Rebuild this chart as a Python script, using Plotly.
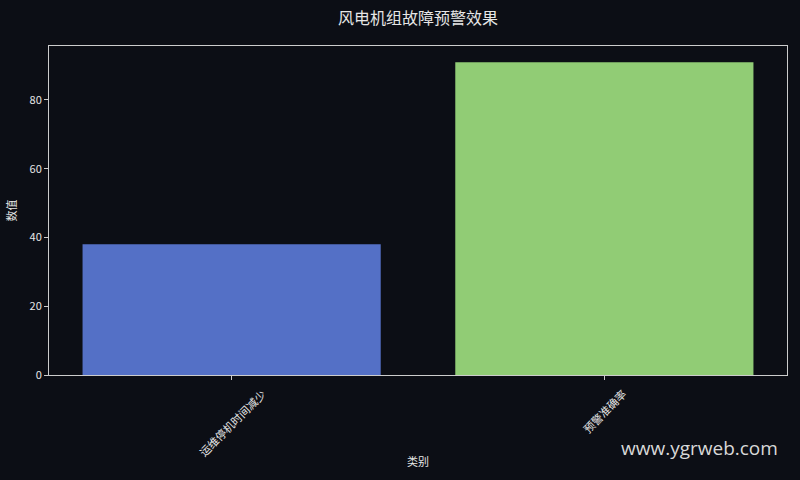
import plotly.graph_objects as go

categories = ["运维停机时间减少", "预警准确率"]
values = [38, 91]
bar_colors = ["#5470C6", "#91CC75"]
y_ticks = [0, 20, 40, 60, 80]

bg = "#0C0E15"
fg = "#E6E6E6"
font_family = "Noto Sans CJK SC, Noto Sans, sans-serif"

fig = go.Figure()
fig.add_trace(
    go.Bar(
        x=categories,
        y=values,
        width=0.8,
        marker=dict(color=bar_colors, line=dict(width=0)),
        showlegend=False,
        hoverinfo="skip",
    )
)

axis_common = dict(
    showline=True,
    linecolor="#CCCCCC",
    linewidth=1,
    mirror=True,
    showgrid=False,
    zeroline=False,
    ticks="outside",
    ticklen=4,
    tickcolor="#CCCCCC",
    tickfont=dict(size=11, color=fg, family=font_family),
)

# rotated category labels centred under each tick (matplotlib style)
annotations = [
    dict(
        text=c,
        x=c,
        xref="x",
        y=-0.025,
        yref="paper",
        xanchor="center",
        yanchor="top",
        textangle=-45,
        showarrow=False,
        font=dict(size=11, color=fg, family=font_family),
    )
    for c in categories
]
annotations.append(
    dict(
        text="类别",
        x=0.5,
        xref="paper",
        y=-0.261,
        yref="paper",
        xanchor="center",
        yanchor="middle",
        showarrow=False,
        font=dict(size=11, color=fg, family=font_family),
    )
)
annotations.append(
    dict(
        text="www.ygrweb.com",
        xref="paper",
        yref="paper",
        x=0.99,
        y=-0.222,
        xanchor="right",
        yanchor="middle",
        showarrow=False,
        font=dict(size=19, color="#D8D8D8", family="Open Sans, Noto Sans, sans-serif"),
    )
)

fig.update_layout(
    width=800,
    height=480,
    paper_bgcolor=bg,
    plot_bgcolor=bg,
    margin=dict(l=46, r=12, t=46, b=105),
    font=dict(family=font_family, color=fg),
    title=dict(
        text="风电机组故障预警效果",
        x=0.5,
        xref="paper",
        xanchor="center",
        y=0.962,
        yanchor="middle",
        font=dict(size=16, color=fg, family=font_family),
    ),
    xaxis=dict(
        **axis_common,
        range=[-0.49, 1.49],
        showticklabels=False,
    ),
    yaxis=dict(
        **axis_common,
        range=[0, 95.7],
        tickvals=y_ticks,
        title=dict(text="数值", font=dict(size=11, color=fg), standoff=10),
    ),
    annotations=annotations,
)

# drop the page margin so the figure sits flush in the window
fig.write_html(
    "out.html",
    config={"displayModeBar": False},
    post_script="document.body.style.margin='0';document.body.style.background='" + bg + "';",
)
